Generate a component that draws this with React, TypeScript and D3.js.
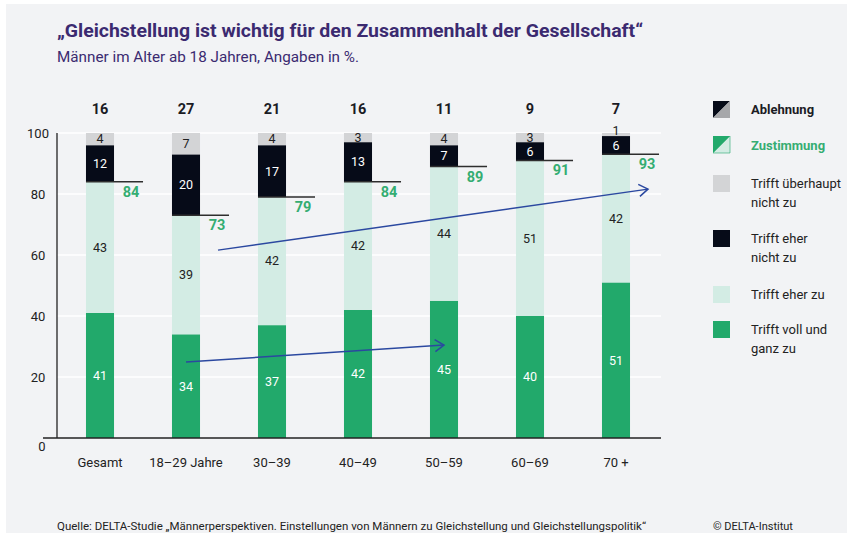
import * as d3 from "d3";

const categories = ["Gesamt", "18–29 Jahre", "30–39", "40–49", "50–59", "60–69", "70 +"];
const vollUndGanz = [41, 34, 37, 42, 45, 40, 51];
const eherZu = [43, 39, 42, 42, 44, 51, 42];
const eherNicht = [12, 20, 17, 13, 7, 6, 6];
const ueberhauptNicht = [4, 7, 4, 3, 4, 3, 1];
const zustimmung = [84, 73, 79, 84, 89, 91, 93];
const ablehnung = [16, 27, 21, 16, 11, 9, 7];
const yTicks = [0, 20, 40, 60, 80, 100];

// trend arrows: [start category, start value, end category, end value]
const trendTop: [string, number, string, number] = ["18–29 Jahre", 61.6, "70 +", 81.6];
const trendBottom: [string, number, string, number] = ["18–29 Jahre", 24.9, "50–59", 30.5];

const legendItems = [
  { label: ["Trifft überhaupt", "nicht zu"], color: "#d3d4d6" },
  { label: ["Trifft eher", "nicht zu"], color: "#060b18" },
  { label: ["Trifft eher zu"], color: "#d3ece4" },
  { label: ["Trifft voll und", "ganz zu"], color: "#22a96b" },
];

const keys = ["voll", "eher", "eherNicht", "ueberhaupt"] as const;
const colors: Record<string, string> = {
  voll: "#22a96b",
  eher: "#d3ece4",
  eherNicht: "#060b18",
  ueberhaupt: "#d3d4d6",
};
const labelColors: Record<string, string> = {
  voll: "#ffffff",
  eher: "#222222",
  eherNicht: "#ffffff",
  ueberhaupt: "#222222",
};

const FONT = "Roboto, 'Liberation Sans', sans-serif";
const GREEN_TXT = "#35ad72";
const PURPLE = "#3b2a70";

export default function App() {
  const width = 853;
  const height = 538;

  const rows = categories.map((c, i) => ({
    cat: c,
    voll: vollUndGanz[i],
    eher: eherZu[i],
    eherNicht: eherNicht[i],
    ueberhaupt: ueberhauptNicht[i],
  }));
  const series = d3.stack<any>().keys(keys as any)(rows);

  const x = d3
    .scaleBand()
    .domain(categories)
    .range([57, 659])
    .paddingInner(0.674)
    .paddingOuter(0.337);
  const y = d3.scaleLinear().domain([0, 100]).range([438, 133]);
  const bw = x.bandwidth();
  const cx = (c: string) => (x(c) ?? 0) + bw / 2;

  const arrow = (t: [string, number, string, number], off: number, key: string) => (
    <line
      key={key}
      x1={cx(t[0]) + off}
      y1={y(t[1])}
      x2={cx(t[2]) + off}
      y2={y(t[3])}
      stroke="#2b48a0"
      strokeWidth={1.5}
      markerEnd="url(#arrowHead)"
    />
  );

  return (
    <div style={{ position: "absolute", left: 0, top: 0 }}>
      <svg width={width} height={height} style={{ display: "block", fontFamily: FONT }}>
        <defs>
          <marker
            id="arrowHead"
            markerUnits="userSpaceOnUse"
            markerWidth={12}
            markerHeight={14}
            refX={10}
            refY={7}
            orient="auto"
          >
            <path d="M1,1 L10,7 L1,13" fill="none" stroke="#2b48a0" strokeWidth={1.5} />
          </marker>
        </defs>
        <rect x={0} y={0} width={width} height={height} fill="#ffffff" />
        <rect x={6} y={4} width={841} height={529} fill="#f2f3f5" />

        <text x={57} y={37} fontSize={18} fontWeight={700} fill={PURPLE} textLength={586} lengthAdjust="spacingAndGlyphs">
          „Gleichstellung ist wichtig für den Zusammenhalt der Gesellschaft“
        </text>
        <text x={57} y={62} fontSize={14.5} fill={PURPLE} textLength={302} lengthAdjust="spacingAndGlyphs">
          Männer im Alter ab 18 Jahren, Angaben in %.
        </text>

        {/* grid */}
        {yTicks.filter((t) => t > 0).map((t) => (
          <line key={t} x1={57} x2={661} y1={y(t)} y2={y(t)} stroke="#ffffff" strokeWidth={1.5} />
        ))}
        {yTicks.map((t) => (
          <text
            key={"l" + t}
            x={t === 0 ? 42 : 38}
            y={t === 0 ? y(t) + 8 : y(t)}
            dy="0.35em"
            textAnchor="middle"
            fontSize={13}
            fill="#222"
          >
            {t}
          </text>
        ))}

        {/* bars */}
        {series.map((s) => (
          <g key={s.key}>
            {s.map((d, i) => (
              <rect
                key={i}
                x={x(categories[i])}
                y={y(d[1])}
                width={bw}
                height={y(d[0]) - y(d[1])}
                fill={colors[s.key]}
              />
            ))}
            {s.map((d, i) => {
              const v = d[1] - d[0];
              const my = (y(d[0]) + y(d[1])) / 2 + (v < 2 ? -4 : 0);
              return (
                <text
                  key={"t" + i}
                  x={cx(categories[i])}
                  y={my}
                  dy="0.35em"
                  textAnchor="middle"
                  fontSize={12.5}
                  fill={labelColors[s.key]}
                >
                  {v}
                </text>
              );
            })}
          </g>
        ))}

        {/* Zustimmung markers */}
        {categories.map((c, i) => (
          <g key={"z" + c}>
            <line
              x1={x(c)}
              x2={(x(c) ?? 0) + bw + 29}
              y1={y(zustimmung[i])}
              y2={y(zustimmung[i])}
              stroke="#2e2e2e"
              strokeWidth={1.5}
            />
            <text
              x={cx(c) + 31}
              y={y(zustimmung[i]) + 15}
              textAnchor="middle"
              fontSize={14.5}
              fontWeight={700}
              fill={GREEN_TXT}
            >
              {zustimmung[i]}
            </text>
            <text x={cx(c)} y={114} textAnchor="middle" fontSize={14.5} fontWeight={700} fill="#1b1b24">
              {ablehnung[i]}
            </text>
            <text x={cx(c)} y={467} textAnchor="middle" fontSize={13} fill="#222">
              {c}
            </text>
          </g>
        ))}

        {/* axes */}
        <line x1={57} x2={57} y1={y(100)} y2={y(0)} stroke="#222" strokeWidth={1.3} />
        <line x1={43} x2={661} y1={y(0)} y2={y(0)} stroke="#222" strokeWidth={1.5} />

        {arrow(trendTop, 32, "a1")}
        {arrow(trendBottom, 0, "a2")}

        {/* legend */}
        <g>
          <polygon points="713,101 730,101 713,118" fill="#060b18" />
          <polygon points="730,101 730,118 713,118" fill="#a6a7aa" />
          <text x={751} y={114} fontSize={13} fontWeight={700} fill="#1b1b24">Ablehnung</text>
          <polygon points="713,136 730,136 713,153" fill="#22a96b" />
          <polygon points="730,136 730,153 713,153" fill="#d3ece4" stroke="#22a96b" strokeWidth={0.6} />
          <text x={751} y={150} fontSize={13} fontWeight={700} fill={GREEN_TXT}>Zustimmung</text>
          {legendItems.map((it, i) => {
            const top = [175, 230, 286, 321][i];
            return (
              <g key={i}>
                <rect x={713} y={top} width={17} height={17} fill={it.color} />
                {it.label.map((l, j) => (
                  <text key={j} x={751} y={top + 13 + j * 19} fontSize={13} fill="#222">
                    {l}
                  </text>
                ))}
              </g>
            );
          })}
        </g>

        <text x={57} y={530} fontSize={11} fill="#222" textLength={589} lengthAdjust="spacingAndGlyphs">
          Quelle: DELTA-Studie „Männerperspektiven. Einstellungen von Männern zu Gleichstellung und Gleichstellungspolitik“
        </text>
        <text x={713} y={530} fontSize={11} fill="#222">© DELTA-Institut</text>
      </svg>
    </div>
  );
}
